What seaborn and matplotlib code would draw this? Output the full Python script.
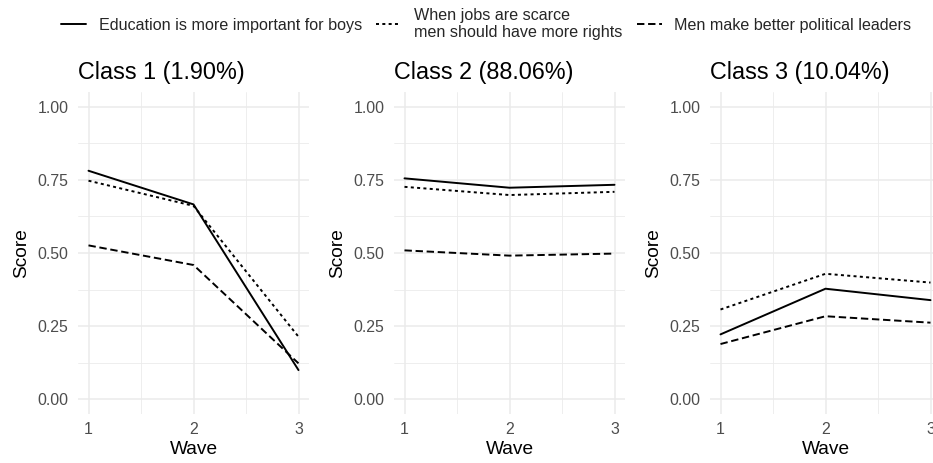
import matplotlib
matplotlib.use("Agg")
import matplotlib.pyplot as plt
from matplotlib.ticker import MultipleLocator
import numpy as np
import pandas as pd
import seaborn as sns

# Latent-class trajectories of three gender-attitude items over three waves
waves = [1, 2, 3]
items = [
    "Education is more important for boys",
    "When jobs are scarce\nmen should have more rights",
    "Men make better political leaders",
]
class_titles = ["Class 1 (1.90%)", "Class 2 (88.06%)", "Class 3 (10.04%)"]

class1_education = [0.781, 0.666, 0.100]
class1_jobs = [0.747, 0.661, 0.214]
class1_leaders = [0.526, 0.459, 0.123]

class2_education = [0.755, 0.723, 0.733]
class2_jobs = [0.726, 0.698, 0.709]
class2_leaders = [0.509, 0.491, 0.498]

class3_education = [0.222, 0.378, 0.339]
class3_jobs = [0.307, 0.429, 0.399]
class3_leaders = [0.189, 0.284, 0.262]

class_series = [
    [class1_education, class1_jobs, class1_leaders],
    [class2_education, class2_jobs, class2_leaders],
    [class3_education, class3_jobs, class3_leaders],
]

rows = []
for title, series in zip(class_titles, class_series):
    for item, values in zip(items, series):
        for w, v in zip(waves, values):
            rows.append({"Class": title, "Item": item, "Wave": w, "Score": v})
df = pd.DataFrame(rows)

sns.set_theme(style="whitegrid")
plt.rcParams["font.family"] = ["Liberation Sans", "DejaVu Sans"]

W, H = 933, 463
fig = plt.figure(figsize=(W / 100, H / 100), dpi=100)

dashes = {items[0]: "", items[1]: (1.55, 1.7), items[2]: (3.8, 1.9)}

panel_left = [78, 394, 710]
panel_w = 231
panel_top, panel_bot = 92, 414

grid_col = "#EBEBEB"
handles = labels = None
for i, title in enumerate(class_titles):
    ax = fig.add_axes([panel_left[i] / W, (H - panel_bot) / H,
                       panel_w / W, (panel_bot - panel_top) / H])
    sub = df[df["Class"] == title]
    sns.lineplot(data=sub, x="Wave", y="Score", style="Item", style_order=items,
                 dashes=dashes, color="black", linewidth=1.4, ax=ax,
                 legend=(i == 0))
    if i == 0:
        handles, labels = ax.get_legend_handles_labels()
        ax.get_legend().remove()
    ax.set_xlim(0.9, 3.1)
    ax.set_ylim(-0.05, 1.05)
    ax.set_xticks(waves)
    ax.set_yticks([0, 0.25, 0.5, 0.75, 1.0])
    ax.set_yticklabels(["0.00", "0.25", "0.50", "0.75", "1.00"])
    ax.xaxis.set_minor_locator(MultipleLocator(0.5))
    ax.yaxis.set_minor_locator(MultipleLocator(0.125))
    ax.grid(which="major", color=grid_col, linewidth=1.1)
    ax.grid(which="minor", color=grid_col, linewidth=0.6)
    ax.set_axisbelow(True)
    ax.set_facecolor("white")
    for s in ax.spines.values():
        s.set_visible(False)
    ax.tick_params(which="both", length=0)
    ax.tick_params(axis="x", pad=6, labelsize=11.4, labelcolor="#4D4D4D")
    ax.tick_params(axis="y", pad=7, labelsize=11.4, labelcolor="#4D4D4D")
    ax.set_xlabel("Wave", fontsize=13.8, color="black", labelpad=3)
    ax.set_ylabel("Score", fontsize=13.8, color="black", labelpad=5)
    ax.set_title(title, loc="left", fontsize=16.8, color="black", pad=9)

leg = fig.legend(handles, labels, loc="center",
                 bbox_to_anchor=(0.5 + 20 / W, 1 - 24 / H),
                 ncol=3, frameon=False, fontsize=11.6, handlelength=1.55,
                 handletextpad=0.8, columnspacing=0.86)
for line in leg.get_lines():
    line.set_linewidth(1.4)

fig.savefig("out.png", dpi=100, facecolor="white")
